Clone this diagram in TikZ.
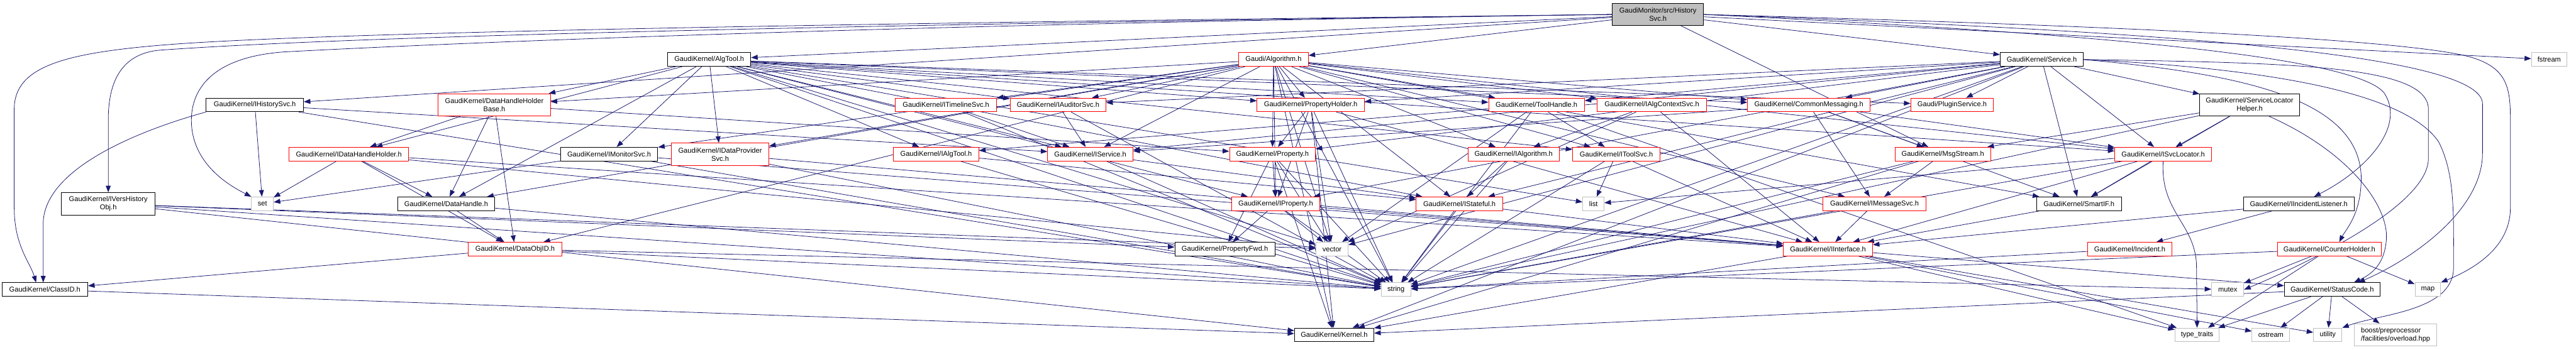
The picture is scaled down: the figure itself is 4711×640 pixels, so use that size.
\documentclass[tikz,border=0pt]{standalone}
\usepackage{fontspec}
\setmainfont{Liberation Sans}
\usetikzlibrary{arrows.meta,backgrounds,calc}
\definecolor{edgeblue}{HTML}{191970}
\definecolor{sysgray}{HTML}{BFBFBF}
\definecolor{boxred}{HTML}{FF0000}
\tikzset{
  box/.style={draw=black, fill=white, line width=1.1pt, inner xsep=2pt, inner ysep=1pt,
    minimum height=25pt, font=\fontsize{12.8}{15}\selectfont, text=black, align=center},
  redbox/.style={box, draw=boxred},
  sysbox/.style={box, draw=sysgray},
  rootbox/.style={box, fill=sysgray},
  two/.style={minimum height=41pt},
  e/.style={draw=edgeblue, line width=0.9pt, -{Triangle[length=12pt,width=9pt]}},
}
\newcommand\gnode[5]{\node[#1, minimum width=#2pt] (#3) at (#4) {#5};}
\begin{document}
\begin{tikzpicture}[x=1pt,y=1pt]
\useasboundingbox (0,0) rectangle (4711,640);
% root
\gnode{rootbox,two,minimum height=40pt}{167}{root}{3032,613.5}{GaudiMonitor/src/History\\Svc.h}
% row 1
\gnode{box}{152}{algtool}{1297,531}{GaudiKernel/AlgTool.h}
\gnode{redbox}{127}{algorithm}{2329,531}{Gaudi/Algorithm.h}
\gnode{box}{152}{service}{3734,531}{GaudiKernel/Service.h}
\gnode{sysbox}{65}{fstream}{4662,531}{fstream}
% row 2
\gnode{box}{178}{ihistorysvc}{466,448}{GaudiKernel/IHistorySvc.h}
\gnode{redbox,two}{205}{dhhb}{904,448}{GaudiKernel/DataHandleHolder\\Base.h}
\gnode{redbox}{185}{itimeline}{1730,448}{GaudiKernel/ITimelineSvc.h}
\gnode{redbox}{175}{iauditor}{1935,448}{GaudiKernel/IAuditorSvc.h}
\gnode{redbox}{196}{propholder}{2397,448}{GaudiKernel/PropertyHolder.h}
\gnode{redbox}{175}{toolhandle}{2810,448}{GaudiKernel/ToolHandle.h}
\gnode{redbox}{200}{ialgctx}{3021,448}{GaudiKernel/IAlgContextSvc.h}
\gnode{redbox}{224}{commonmsg}{3308,448}{GaudiKernel/CommonMessaging.h}
\gnode{redbox}{151}{plugin}{3570,448}{Gaudi/PluginService.h}
\gnode{box,two}{182}{slh}{4114,448}{GaudiKernel/ServiceLocator\\Helper.h}
% row 3
\gnode{redbox}{219}{idhh}{638,358}{GaudiKernel/IDataHandleHolder.h}
\gnode{box}{178}{imonitor}{1114,358}{GaudiKernel/IMonitorSvc.h}
\gnode{redbox,two}{178}{idataprov}{1317,357.5}{GaudiKernel/IDataProvider\\Svc.h}
\gnode{redbox}{156}{ialgtool}{1712,358}{GaudiKernel/IAlgTool.h}
\gnode{redbox}{156}{iservice}{1994,358}{GaudiKernel/IService.h}
\gnode{redbox}{157}{property}{2327,358}{GaudiKernel/Property.h}
\gnode{redbox}{167}{ialgorithm}{2768,358}{GaudiKernel/IAlgorithm.h}
\gnode{redbox}{160}{itoolsvc}{2956,358}{GaudiKernel/IToolSvc.h}
\gnode{redbox}{175}{msgstream}{3553,358}{GaudiKernel/MsgStream.h}
\gnode{redbox}{177}{isvcloc}{3956,358}{GaudiKernel/ISvcLocator.h}
% row 4
\gnode{box,two}{171}{iversh}{198,267}{GaudiKernel/IVersHistory\\Obj.h}
\gnode{sysbox}{40}{set}{480,267}{set}
\gnode{box}{178}{datahandle}{816,267}{GaudiKernel/DataHandle.h}
\gnode{redbox}{162}{iproperty}{2333,267}{GaudiKernel/IProperty.h}
\gnode{redbox}{158}{istateful}{2669,267}{GaudiKernel/IStateful.h}
\gnode{sysbox}{39}{list}{2914,267}{list}
\gnode{redbox}{189}{imessagesvc}{3428,267}{GaudiKernel/IMessageSvc.h}
\gnode{box}{155}{smartif}{3802,267}{GaudiKernel/SmartIF.h}
\gnode{box}{202}{iinclist}{4204,267}{GaudiKernel/IIncidentListener.h}
% row 5
\gnode{redbox}{171}{dataobjid}{942,184}{GaudiKernel/DataObjID.h}
\gnode{box}{183}{propfwd}{2240,184}{GaudiKernel/PropertyFwd.h}
\gnode{sysbox}{59}{vector}{2436,184}{vector}
\gnode{redbox}{163}{iinterface}{3343,184}{GaudiKernel/IInterface.h}
\gnode{redbox}{154}{incident}{3895,184}{GaudiKernel/Incident.h}
\gnode{redbox}{190}{counterholder}{4260,184}{GaudiKernel/CounterHolder.h}
% row 6
\gnode{box}{157}{classid}{82,110}{GaudiKernel/ClassID.h}
\gnode{sysbox}{54}{string}{2553,110}{string}
\gnode{sysbox}{59}{mutex}{4074,110}{mutex}
\gnode{box}{175}{statuscode}{4265,110}{GaudiKernel/StatusCode.h}
\gnode{sysbox}{47}{map}{4440,110}{map}
% row 7
\gnode{box}{145}{kernel}{2440,27}{GaudiKernel/Kernel.h}
\gnode{sysbox}{81}{typetraits}{4018,27}{type\_traits}
\gnode{sysbox}{69}{ostream}{4153,27}{ostream}
\gnode{sysbox}{52}{utility}{4257,27}{utility}
\gnode{sysbox,two,align=left}{150}{boost}{4381,27}{boost/preprocessor\\/facilities/overload.hpp}

\begin{scope}[on background layer]
% straight connectors
\foreach \x in {algorithm,algtool,service,ihistorysvc,msgstream,fstream} \draw[e] (root) -- (\x);
\foreach \x in {ialgorithm,imessagesvc,iproperty,iservice,istateful,isvcloc,toolhandle,ialgctx,iauditor,imonitor,itimeline,itoolsvc,idataprov,commonmsg,dhhb,property,propholder,datahandle,dataobjid,smartif,string,vector,kernel} \draw[e] (algorithm) -- (\x);
\foreach \x in {commonmsg,ialgtool,iauditor,imonitor,iproperty,iservice,istateful,isvcloc,itoolsvc,propholder,toolhandle,dhhb,idhh,datahandle,idataprov,plugin,list,vector,string} \draw[e] (algtool) -- (\x);
\foreach \x in {commonmsg,iauditor,iproperty,iservice,istateful,isvcloc,kernel,propholder,slh,smartif,toolhandle,plugin,property,vector,string} \draw[e] (service) -- (\x);
\foreach \x in {set,string,iservice} \draw[e] (ihistorysvc) -- (\x);
\foreach \x in {string,vector,kernel,propfwd} \draw[e] (iversh) -- (\x);
\foreach \x in {idhh,datahandle,dataobjid,property} \draw[e] (dhhb) -- (\x);
\foreach \x in {iservice,string} \draw[e] (itimeline) -- (\x);
\foreach \x in {iservice,string} \draw[e] (iauditor) -- (\x);
\foreach \x in {property,iproperty,vector,string,kernel,iinterface} \draw[e] (propholder) -- (\x);
\foreach \x in {ialgtool,itoolsvc,string,vector,typetraits} \draw[e] (toolhandle) -- (\x);
\foreach \x in {ialgorithm,vector,iinterface} \draw[e] (ialgctx) -- (\x);
\foreach \x in {imessagesvc,msgstream,smartif,isvcloc,iservice} \draw[e] (commonmsg) -- (\x);
\foreach \x in {msgstream,isvcloc,smartif,string} \draw[e] (slh) -- (\x);
\foreach \x in {set,datahandle,dataobjid,vector,iinterface} \draw[e] (idhh) -- (\x);
\foreach \x in {set,string,iinterface} \draw[e] (imonitor) -- (\x);
\foreach \x in {string,iinterface} \draw[e] (idataprov) -- (\x);
\foreach \x in {istateful,string} \draw[e] (ialgtool) -- (\x);
\foreach \x in {istateful,string} \draw[e] (iservice) -- (\x);
\foreach \x in {iproperty,propfwd,kernel,string,vector} \draw[e] (property) -- (\x);
\foreach \x in {istateful,string} \draw[e] (ialgorithm) -- (\x);
\foreach \x in {list,string,iinterface} \draw[e] (itoolsvc) -- (\x);
\foreach \x in {imessagesvc,string,kernel} \draw[e] (msgstream) -- (\x);
\foreach \x in {smartif,list,string,iinterface} \draw[e] (isvcloc) -- (\x);
\foreach \x in {dataobjid,string} \draw[e] (datahandle) -- (\x);
\foreach \x in {propfwd,vector,string,iinterface} \draw[e] (iproperty) -- (\x);
\foreach \x in {string,iinterface} \draw[e] (istateful) -- (\x);
\foreach \x in {iinterface,string} \draw[e] (imessagesvc) -- (\x);
\draw[e] (smartif) -- (iinterface);
\foreach \x in {iinterface,incident} \draw[e] (iinclist) -- (\x);
\foreach \x in {classid,string,mutex} \draw[e] (dataobjid) -- (\x);
\foreach \x in {kernel,statuscode,ostream,typetraits,utility} \draw[e] (iinterface) -- (\x);
\draw[e] (incident) -- (string);
\foreach \x in {mutex,map,typetraits,string} \draw[e] (counterholder) -- (\x);
\draw[e] (classid) -- (kernel);
\foreach \x in {kernel,boost,ostream,typetraits,utility} \draw[e] (statuscode) -- (\x);
% curved connectors (left side)
\draw[e] (root.west) .. controls (1800,600) and (700,585) .. (330,560) .. controls (120,545) and (26,520) .. (26,440) -- (26,260) .. controls (26,190) and (55,160) .. ($(classid.north)+(-16,0)$);
\draw[e] (root.west) .. controls (1800,598) and (700,578) .. (290,548) .. controls (215,540) and (198,480) .. (198,420) -- (iversh.north);
\draw[e] (ihistorysvc.south west) .. controls (250,400) and (79,330) .. (79,230) -- ($(classid.north)+(-3,0)$);
\draw[e] (root.west) .. controls (1600,595) and (800,560) .. (520,545) .. controls (380,535) and (350,470) .. (350,420) .. controls (350,340) and (420,300) .. (set.north west);
% curved connectors (right side)
\draw[e] (root.east) .. controls (3800,595) and (4400,570) .. (4520,535) .. controls (4585,515) and (4591,480) .. (4591,420) -- (4591,260) .. controls (4591,190) and (4530,150) .. (map.north east);
\draw[e] (root.east) .. controls (3700,585) and (4300,545) .. (4360,470) .. controls (4400,410) and (4330,330) .. ($(iinclist.north)+(28,0)$);
\draw[e] (root.east) .. controls (3900,585) and (4540,545) .. (4540,450) -- (4540,360) .. controls (4540,250) and (4400,160) .. ($(statuscode.north)+(48,0)$);
\draw[e] (service.east) .. controls (4200,525) and (4441,520) .. (4441,440) -- (4441,350) .. controls (4441,260) and (4200,150) .. (mutex.east);
\draw[e] (service.east) .. controls (4150,515) and (4400,470) .. (4460,380) .. controls (4490,320) and (4487,250) .. (4487,150) .. controls (4487,70) and (4350,65) .. (utility.north east);
\draw[e] (service.east) .. controls (4100,505) and (4310,460) .. (4318,320) .. controls (4320,250) and (4290,220) .. ($(counterholder.north)+(18,0)$);
\draw[e] ($(slh.south)+(36,0)$) .. controls (4300,360) and (4370,260) .. (4364,200) .. controls (4360,150) and (4330,135) .. ($(statuscode.north)+(40,0)$);
\draw[e] (isvcloc.south) .. controls (3950,250) and (4017,230) .. (4017,150) -- (typetraits.north);
\end{scope}
\end{tikzpicture}
\end{document}
